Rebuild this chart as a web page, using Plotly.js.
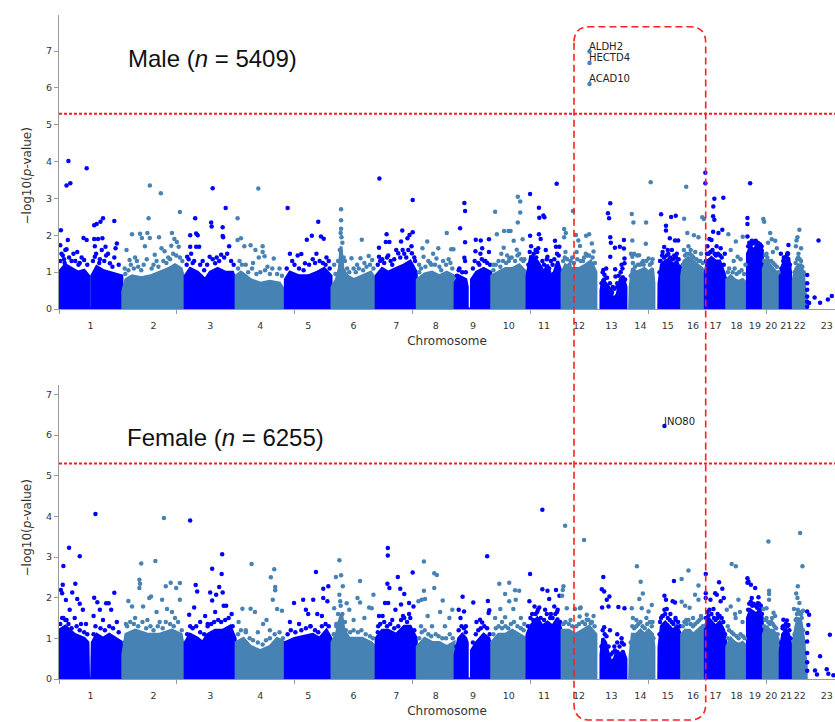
<!DOCTYPE html>
<html>
<head>
<meta charset="utf-8">
<script src="https://cdn.plot.ly/plotly-3.0.1.min.js"></script>
<style>html,body{margin:0;padding:0;background:#fff;}#chart{width:835px;height:722px;}</style>
</head>
<body>
<div id="chart"></div>
<script>
// ---------------- DATA ----------------
const chromosomes = ['1','2','3','4','5','6','7','8','9','10','11','12','13','14','15','16','17','18','19','20','21','22','23'];
const chrLengthMb = [249,243,198,191,181,171,159,146,141,136,135,134,115,107,102,90,81,78,59,63,48,51,155];
const chrGapMb = 3.9;
const threshold = 5.3; // -log10(5e-6)

// Dense lower band of each chromosome: [fraction along chromosome, -log10 p] outline
const maleCore = [
 [[0,1.0],[0.1,1.2],[0.2,1.1],[0.3,1.0],[0.4,1.05],[0.47,0.9],[0.47,0],[0.52,0],[0.52,0.9],[0.6,1.15],[0.7,1.05],[0.8,1.0],[0.9,0.95],[1,0.9]],
 [[0,0.5],[0.05,0.8],[0.15,0.9],[0.3,0.85],[0.45,0.9],[0.6,1.0],[0.75,1.1],[0.85,1.2],[0.95,1.1],[1,0.8]],
 [[0,0.9],[0.1,1.1],[0.25,1.0],[0.4,0.8],[0.5,1.0],[0.65,1.1],[0.8,1.0],[0.95,1.0],[1,0.8]],
 [[0,0.9],[0.1,1.0],[0.3,0.8],[0.5,0.7],[0.7,0.75],[0.9,0.7],[1,0.5]],
 [[0,0.8],[0.1,1.0],[0.3,0.9],[0.5,0.9],[0.7,1.0],[0.85,1.1],[1,0.9]],
 [[0,0.6],[0.1,0.8],[0.17,1.1],[0.21,1.7],[0.25,1.1],[0.35,0.9],[0.5,0.8],[0.7,0.9],[0.9,1.0],[1,0.8]],
 [[0,0.9],[0.15,1.1],[0.3,1.0],[0.5,1.1],[0.7,1.2],[0.85,1.3],[1,1.0]],
 [[0,0.8],[0.2,0.95],[0.4,1.0],[0.6,0.9],[0.8,1.0],[1,0.9]],
 [[0,0.7],[0.1,0.9],[0.3,0.8],[0.34,0.6],[0.34,0],[0.46,0],[0.46,0.8],[0.6,1.0],[0.8,1.1],[1,1.0]],
 [[0,0.9],[0.2,1.0],[0.4,1.1],[0.6,1.1],[0.8,1.2],[1,1.0]],
 [[0,0.9],[0.1,1.4],[0.3,1.3],[0.5,1.0],[0.6,1.2],[0.7,0.9],[0.8,1.0],[0.9,1.3],[1,1.0]],
 [[0,1.0],[0.1,1.2],[0.3,1.1],[0.5,1.1],[0.7,1.2],[0.85,1.3],[1,1.0]],
 [[0.14,0],[0.14,0.5],[0.2,0.8],[0.3,0.7],[0.4,0.6],[0.5,0.5],[0.55,0.2],[0.6,0.3],[0.7,0.4],[0.8,0.8],[0.9,0.9],[1,0.6]],
 [[0.1,0],[0.12,0.6],[0.2,1.1],[0.35,1.0],[0.5,1.05],[0.65,1.1],[0.8,1.0],[0.95,1.1],[1,0.7]],
 [[0.15,0],[0.16,0.7],[0.25,1.2],[0.4,1.3],[0.55,1.35],[0.7,1.2],[0.85,1.3],[1,1.0]],
 [[0,0.9],[0.1,1.3],[0.3,1.4],[0.5,1.3],[0.7,1.2],[0.9,1.1],[1,1.0]],
 [[0,1.0],[0.1,1.3],[0.3,1.4],[0.5,1.3],[0.7,1.3],[0.9,1.0],[1,0.8]],
 [[0,0.8],[0.2,0.9],[0.4,0.8],[0.6,0.75],[0.8,0.8],[1,0.7]],
 [[0,1.5],[0.2,1.7],[0.4,1.6],[0.6,1.7],[0.8,1.7],[1,1.6]],
 [[0,1.1],[0.2,1.3],[0.4,1.2],[0.6,1.1],[0.8,1.0],[1,0.8]],
 [[0,0.9],[0.2,1.2],[0.5,1.3],[0.7,1.4],[0.85,1.0],[0.9,0]],
 [[0,0.8],[0.2,1.1],[0.4,1.2],[0.6,1.2],[0.8,0.9],[0.9,0.5],[1,0.3]],
 []
];
// Scattered SNPs above the band: [fraction along chromosome, -log10 p]
const malePoints = [
 [[0.15,4.02],[0.12,3.35],[0.18,3.41],[0.44,3.82],[0.03,2.14],[0.14,1.87],[0.02,1.73],[0.10,1.6],[0.12,1.62],[0.04,1.5],[0.23,1.5],[0.29,1.55],[0.39,1.93],[0.44,1.87],[0.40,1.33],[0.56,2.27],[0.60,2.31],[0.66,2.37],[0.70,2.46],[0.88,2.39],[0.92,1.78],[0.56,1.9],[0.62,1.9],[0.69,1.92],[0.57,1.7],[0.74,1.69],[0.68,1.6],[0.90,1.65],[0.57,1.42],[0.81,1.24],[0.08,1.35],[0.2,1.3],[0.33,1.25],[0.65,1.35],[0.75,1.45],[0.95,1.2]],
 [[0.44,3.35],[0.62,3.14],[0.93,2.63],[0.42,2.46],[0.15,2.03],[0.28,2.04],[0.40,2.06],[0.31,1.93],[0.44,1.93],[0.59,1.95],[0.80,2.06],[0.84,1.9],[0.88,1.82],[0.36,1.7],[0.52,1.47],[0.63,1.65],[0.68,1.57],[0.79,1.72],[0.91,1.69],[0.06,1.6],[0.11,1.33],[0.03,1.1],[0.2,1.4],[0.74,1.4],[0.25,1.15],[0.5,1.2],[0.97,1.3]],
 [[0.55,3.28],[0.81,2.74],[0.20,2.46],[0.52,2.35],[0.53,2.24],[0.75,2.22],[0.75,1.98],[0.76,1.95],[0.88,1.7],[0.10,2.0],[0.22,2.05],[0.25,2.0],[0.10,1.69],[0.22,1.69],[0.28,1.69],[0.49,1.42],[0.72,1.47],[0.04,1.42],[0.6,1.24],[0.35,1.3],[0.92,1.3],[0.15,1.25]],
 [[0.46,3.27],[0.03,2.46],[0.03,1.87],[0.10,1.92],[0.17,1.7],[0.30,1.73],[0.40,1.6],[0.55,1.7],[0.55,1.55],[0.59,1.43],[0.78,1.37],[0.47,1.4],[0.35,1.25],[0.07,1.3],[0.2,1.2],[0.65,1.15],[0.9,1.1]],
 [[0.05,2.74],[0.10,1.5],[0.27,1.45],[0.47,1.88],[0.58,1.99],[0.72,2.37],[0.78,1.97],[0.84,1.91],[0.35,1.49],[0.43,1.24],[0.15,1.3],[0.6,1.35],[0.9,1.4],[0.68,1.5],[0.95,1.3]],
 [[0.21,2.71],[0.21,2.41],[0.21,2.18],[0.20,2.06],[0.22,1.95],[0.69,1.88],[0.45,1.38],[0.66,1.38],[0.85,1.44],[0.93,1.33],[0.05,1.2],[0.5,1.1],[0.24,1.8],[0.18,1.6],[0.3,1.3],[0.75,1.25],[0.58,1.2]],
 [[0.08,3.54],[0.91,2.96],[0.26,2.03],[0.24,1.82],[0.33,1.82],[0.07,1.66],[0.07,1.42],[0.65,2.13],[0.62,1.83],[0.78,1.92],[0.83,2.01],[0.91,2.08],[0.89,1.51],[0.50,1.6],[0.55,1.51],[0.40,1.2],[0.15,1.35],[0.3,1.45],[0.7,1.5],[0.95,1.4]],
 [[0.80,2.06],[0.27,1.83],[0.57,1.65],[0.14,1.65],[0.43,1.5],[0.52,1.37],[0.92,1.62],[0.98,1.62],[0.17,1.42],[0.7,1.3],[0.35,1.25],[0.05,1.2],[0.85,1.35]],
 [[0.26,2.88],[0.28,2.66],[0.14,2.19],[0.28,1.81],[0.26,1.39],[0.28,1.3],[0.58,1.88],[0.72,1.86],[0.76,1.65],[0.95,1.89],[0.57,1.57],[0.71,1.5],[0.95,1.55],[0.85,1.3],[0.1,1.05],[0.65,1.25]],
 [[0.10,2.64],[0.76,3.05],[0.83,2.92],[0.83,2.62],[0.76,2.35],[0.15,2.03],[0.36,2.12],[0.49,2.12],[0.55,2.12],[0.90,1.89],[0.35,1.66],[0.64,1.85],[0.73,1.61],[0.28,1.5],[0.52,1.38],[0.05,1.2],[0.8,1.5],[0.95,1.35],[0.2,1.3],[0.45,1.45]],
 [[0.09,3.12],[0.35,2.75],[0.36,2.48],[0.48,2.54],[0.51,2.49],[0.87,3.40],[0.09,1.99],[0.35,2.03],[0.40,1.9],[0.82,1.85],[0.85,1.69],[0.95,1.69],[0.15,1.42],[0.55,1.6],[0.6,1.42],[0.25,1.6],[0.7,1.3],[0.3,1.55]],
 [[0.32,2.66],[0.06,2.17],[0.06,1.95],[0.11,2.06],[0.41,2.01],[0.48,1.86],[0.71,1.99],[0.80,2.03],[0.88,1.78],[0.53,1.71],[0.93,1.56],[0.10,1.55],[0.43,1.55],[0.22,1.2],[0.62,1.3],[0.3,1.4],[0.75,1.45]],
 [[0.46,2.87],[0.38,2.6],[0.42,2.46],[0.46,1.95],[0.48,1.8],[0.62,1.66],[0.93,1.87],[0.93,1.64],[0.95,1.37],[0.95,1.24],[0.22,1.06],[0.26,0.93],[0.63,1.08],[0.64,0.88],[0.32,1.1],[0.46,1.42],[0.79,1.69],[0.85,1.2],[0.7,0.7],[0.55,0.6]],
 [[0.88,3.44],[0.18,2.58],[0.24,2.35],[0.71,2.35],[0.20,1.86],[0.70,1.77],[0.15,1.5],[0.20,1.42],[0.45,1.46],[0.80,1.37],[0.27,1.5],[0.38,1.45],[0.6,1.3],[0.95,1.35]],
 [[0.24,2.57],[0.63,2.5],[0.81,2.53],[0.43,2.26],[0.43,2.13],[0.36,1.68],[0.58,1.92],[0.78,1.86],[0.90,1.86],[0.66,1.6],[0.85,1.5],[0.3,1.55],[0.5,1.6],[0.2,1.3]],
 [[0.20,3.32],[0.11,2.45],[0.91,2.49],[0.98,2.44],[0.25,2.06],[0.54,2.0],[0.74,1.95],[0.1,1.6],[0.4,1.6],[0.6,1.55],[0.85,1.5],[0.3,1.7]],
 [[0.0,3.70],[0.0,3.41],[0.44,2.99],[0.88,3.02],[0.39,2.78],[0.38,2.52],[0.44,2.42],[0.83,2.15],[0.64,2.06],[0.20,1.9],[0.30,1.87],[0.38,2.1],[0.1,1.7],[0.55,1.7],[0.75,1.65],[0.95,1.5]],
 [[0.08,2.03],[0.46,1.83],[0.81,1.96],[0.2,1.6],[0.55,1.42],[0.35,1.3],[0.7,1.35],[0.95,1.2]],
 [[0.18,3.41],[0.0,2.31],[0.0,1.97],[0.0,2.47],[0.5,1.78],[0.66,1.74],[0.8,1.76],[0.3,1.85],[0.9,1.7]],
 [[0.0,2.44],[0.05,2.37],[0.43,2.06],[0.53,1.89],[0.30,1.8],[0.75,1.85],[0.85,1.65],[0.6,1.55],[0.2,1.5]],
 [[0.68,1.74],[0.6,1.51],[0.05,1.5],[0.3,1.4]],
 [[0.47,2.15],[0.32,1.95],[0.2,1.7],[0.6,1.65],[0.25,1.86],[0.4,1.5]],
 [[0,0.92],[0,0.7],[0,0.52],[0,0.34],[0,0.2],[0,0.06],[0.05,0.16],[0.19,0.31],[0.29,1.86],[0.33,0.17],[0.53,0.26],[0.63,0.35],[0.72,0.38]]
];
// SNPs along the ragged top edge of the dense band
const maleEdge = [
 [[0.02,1.3],[0.06,1.45],[0.09,1.25],[0.16,1.4],[0.26,1.3],[0.31,1.2],[0.36,1.4],[0.45,1.2],[0.54,1.3],[0.59,1.5],[0.64,1.25],[0.72,1.3],[0.78,1.5],[0.85,1.15],[0.88,1.4]],
 [[0.04,0.95],[0.09,1.05],[0.13,1.2],[0.18,1.1],[0.23,1.3],[0.3,1.05],[0.34,1.2],[0.39,1.35],[0.47,1.1],[0.55,1.3],[0.58,1.15],[0.66,1.3],[0.71,1.25],[0.77,1.35],[0.82,1.5],[0.87,1.45],[0.93,1.4]],
 [[0.03,1.2],[0.07,1.35],[0.12,1.5],[0.18,1.3],[0.3,1.2],[0.38,1.05],[0.44,1.2],[0.55,1.35],[0.63,1.4],[0.68,1.3],[0.78,1.4],[0.84,1.5],[0.97,1.2]],
 [[0.04,1.1],[0.12,1.2],[0.25,1.0],[0.33,1.1],[0.42,0.95],[0.5,1.0],[0.6,1.05],[0.7,0.95],[0.75,1.1],[0.85,0.95],[0.95,0.9]],
 [[0.03,1.1],[0.2,1.2],[0.3,1.1],[0.4,1.05],[0.52,1.2],[0.65,1.25],[0.75,1.3],[0.82,1.25],[0.88,1.2],[0.97,1.1]],
 [[0.08,0.95],[0.14,1.3],[0.27,1.4],[0.35,1.1],[0.4,1.0],[0.55,1.0],[0.62,1.1],[0.72,1.05],[0.8,1.15],[0.88,1.2],[0.96,1.1]],
 [[0.04,1.2],[0.1,1.3],[0.2,1.25],[0.27,1.4],[0.36,1.3],[0.45,1.35],[0.6,1.4],[0.66,1.6],[0.75,1.4],[0.8,1.6],[0.88,1.7],[0.97,1.3]],
 [[0.05,1.0],[0.1,1.1],[0.22,1.15],[0.3,1.3],[0.38,1.2],[0.48,1.2],[0.6,1.15],[0.65,1.05],[0.78,1.2],[0.9,1.25],[0.95,1.1]],
 [[0.05,0.9],[0.12,1.1],[0.2,1.0],[0.3,1.0],[0.5,1.1],[0.55,1.3],[0.68,1.2],[0.75,1.35],[0.82,1.3],[0.9,1.25],[0.98,1.2]],
 [[0.05,1.05],[0.12,1.2],[0.25,1.15],[0.33,1.3],[0.42,1.25],[0.5,1.3],[0.58,1.4],[0.68,1.3],[0.75,1.45],[0.86,1.35],[0.92,1.3]],
 [[0.04,1.2],[0.08,1.55],[0.12,1.7],[0.2,1.5],[0.27,1.4],[0.33,1.65],[0.45,1.3],[0.5,1.2],[0.58,1.35],[0.65,1.1],[0.75,1.2],[0.8,1.35],[0.88,1.5],[0.93,1.45]],
 [[0.03,1.3],[0.08,1.4],[0.15,1.35],[0.25,1.3],[0.35,1.25],[0.45,1.35],[0.55,1.3],[0.65,1.4],[0.7,1.5],[0.8,1.45],[0.9,1.4],[0.97,1.25]],
 [[0.16,0.7],[0.2,1.0],[0.25,0.8],[0.35,0.85],[0.45,0.7],[0.52,0.45],[0.6,0.55],[0.7,0.6],[0.75,0.9],[0.82,1.0],[0.88,1.1],[0.97,0.8]],
 [[0.14,0.9],[0.22,1.25],[0.3,1.15],[0.4,1.2],[0.48,1.2],[0.55,1.25],[0.62,1.2],[0.72,1.3],[0.85,1.2],[0.92,1.25]],
 [[0.18,1.0],[0.22,1.3],[0.28,1.45],[0.35,1.4],[0.45,1.45],[0.52,1.5],[0.6,1.4],[0.7,1.35],[0.75,1.45],[0.82,1.4],[0.92,1.35],[0.97,1.15]],
 [[0.05,1.2],[0.15,1.45],[0.22,1.5],[0.35,1.5],[0.45,1.45],[0.52,1.4],[0.65,1.35],[0.75,1.3],[0.82,1.3],[0.93,1.25]],
 [[0.03,1.3],[0.08,1.5],[0.16,1.5],[0.25,1.55],[0.35,1.6],[0.45,1.5],[0.52,1.45],[0.62,1.5],[0.72,1.45],[0.8,1.4],[0.9,1.2]],
 [[0.05,1.0],[0.12,1.1],[0.3,1.0],[0.4,1.1],[0.5,0.95],[0.62,1.0],[0.75,1.05],[0.88,0.95]],
 [[0.05,1.7],[0.12,1.8],[0.25,1.75],[0.4,1.8],[0.55,1.85],[0.7,1.8],[0.85,1.75],[0.95,1.7]],
 [[0.05,1.3],[0.15,1.45],[0.25,1.4],[0.35,1.3],[0.5,1.3],[0.62,1.25],[0.72,1.2],[0.85,1.15],[0.95,1.0]],
 [[0.1,1.1],[0.25,1.3],[0.4,1.4],[0.55,1.45],[0.65,1.5],[0.8,1.2]],
 [[0.1,1.0],[0.18,1.25],[0.3,1.35],[0.38,1.4],[0.5,1.35],[0.6,1.3],[0.7,1.15],[0.8,1.0]],
 []
];
const maleHitGenes = ['ALDH2','HECTD4','ACAD10'];
const maleHitChr = [12,12,12];
const maleHitFrac = [0.81,0.81,0.81];
const maleHitP = [6.99,6.68,6.11];

const femaleCore = [
 [[0,1.2],[0.1,1.3],[0.25,1.1],[0.4,1.0],[0.46,0.9],[0.47,0],[0.52,0],[0.53,0.9],[0.6,1.1],[0.7,1.0],[0.8,1.1],[0.9,1.0],[1,0.9]],
 [[0,0.6],[0.05,1.1],[0.2,1.2],[0.4,1.1],[0.6,1.1],[0.8,1.2],[0.95,1.1],[1,0.7]],
 [[0,0.9],[0.1,1.1],[0.25,1.0],[0.35,0.9],[0.45,1.1],[0.6,1.2],[0.75,1.2],[0.9,1.3],[1,1.0]],
 [[0,0.9],[0.15,1.0],[0.3,0.8],[0.5,0.7],[0.7,0.8],[0.85,1.0],[1,0.9]],
 [[0,0.9],[0.2,1.0],[0.4,1.05],[0.6,1.1],[0.75,1.0],[0.9,1.2],[1,1.0]],
 [[0,0.9],[0.1,1.1],[0.16,1.4],[0.22,1.6],[0.28,1.2],[0.4,1.0],[0.55,1.0],[0.7,1.0],[0.9,0.9],[1,0.8]],
 [[0,1.0],[0.15,1.2],[0.3,1.2],[0.5,1.1],[0.7,1.3],[0.85,1.3],[1,1.0]],
 [[0,0.8],[0.2,1.0],[0.4,0.9],[0.6,0.9],[0.8,0.8],[1,0.9]],
 [[0,0.6],[0.1,1.0],[0.2,1.1],[0.3,1.0],[0.34,0.9],[0.34,0],[0.46,0],[0.46,0.7],[0.6,0.9],[0.8,1.1],[0.95,1.0],[1,0.8]],
 [[0,0.9],[0.2,1.1],[0.4,1.1],[0.6,1.2],[0.8,1.1],[1,1.0]],
 [[0,1.1],[0.1,1.3],[0.3,1.5],[0.45,1.3],[0.6,1.4],[0.75,1.3],[0.9,1.5],[1,1.2]],
 [[0,1.2],[0.2,1.2],[0.4,1.1],[0.6,1.2],[0.8,1.3],[1,1.1]],
 [[0.14,0],[0.14,0.6],[0.2,1.0],[0.3,0.9],[0.4,0.6],[0.5,0.4],[0.6,0.5],[0.7,0.7],[0.8,0.6],[0.9,0.7],[1,0.5]],
 [[0.1,0],[0.12,0.6],[0.2,1.1],[0.35,1.1],[0.5,1.2],[0.65,1.1],[0.8,1.2],[0.95,1.1],[1,0.8]],
 [[0.15,0],[0.16,0.8],[0.25,1.3],[0.4,1.4],[0.55,1.3],[0.7,1.2],[0.85,1.3],[1,1.1]],
 [[0,1.1],[0.15,1.2],[0.35,1.2],[0.5,1.1],[0.7,1.2],[0.9,1.3],[1,1.1]],
 [[0,1.3],[0.15,1.5],[0.35,1.4],[0.5,1.3],[0.7,1.4],[0.9,1.2],[1,0.9]],
 [[0,0.8],[0.2,1.0],[0.4,0.9],[0.6,0.85],[0.8,0.9],[1,0.8]],
 [[0,1.5],[0.2,1.7],[0.4,1.65],[0.6,1.6],[0.8,1.7],[1,1.5]],
 [[0,1.1],[0.2,1.3],[0.4,1.2],[0.6,1.2],[0.8,1.1],[1,0.9]],
 [[0,0.7],[0.2,1.1],[0.5,1.2],[0.7,1.1],[0.9,0.8],[0.92,0]],
 [[0,0.9],[0.2,1.3],[0.4,1.5],[0.6,1.4],[0.8,1.0],[0.9,0.6],[1,0.4]],
 []
];
const femalePoints = [
 [[0.58,4.06],[0.16,3.23],[0.33,3.02],[0.07,2.78],[0.06,2.32],[0.03,2.19],[0.05,2.11],[0.26,2.34],[0.21,2.13],[0.29,1.97],[0.33,1.85],[0.11,1.94],[0.17,1.7],[0.38,1.7],[0.56,2.0],[0.61,1.89],[0.65,1.7],[0.88,2.12],[0.75,1.86],[0.79,1.86],[0.83,1.7],[0.35,1.35],[0.43,1.35],[0.07,1.5],[0.12,1.45],[0.25,1.5],[0.7,1.45],[0.92,1.4],[0.55,1.55]],
 [[0.30,2.84],[0.53,2.9],[0.67,3.96],[0.27,2.44],[0.28,2.34],[0.27,2.24],[0.70,2.28],[0.78,2.37],[0.87,2.24],[0.93,2.36],[0.64,1.95],[0.93,1.95],[0.09,1.92],[0.15,1.78],[0.33,1.78],[0.43,1.99],[0.46,2.03],[0.55,1.65],[0.72,1.72],[0.80,1.65],[0.2,1.5],[0.4,1.45],[0.6,1.4],[0.05,1.35],[0.85,1.5]],
 [[0.10,3.90],[0.74,3.07],[0.54,2.71],[0.73,2.58],[0.68,2.26],[0.75,2.13],[0.21,2.31],[0.24,2.15],[0.50,2.13],[0.54,1.93],[0.62,2.07],[0.18,1.76],[0.08,1.58],[0.77,1.8],[0.82,1.8],[0.93,1.6],[0.4,1.55],[0.6,1.65],[0.45,1.35],[0.3,1.4]],
 [[0.32,2.83],[0.79,2.70],[0.72,2.5],[0.81,2.26],[0.81,2.18],[0.76,1.95],[0.13,1.73],[0.30,1.73],[0.39,1.65],[0.56,1.35],[0.63,1.45],[0.85,1.72],[0.95,1.68],[0.05,1.4],[0.2,1.2],[0.45,1.15],[0.7,1.2]],
 [[0.19,1.87],[0.39,1.95],[0.61,1.95],[0.67,2.63],[0.83,2.22],[0.94,2.28],[0.83,1.99],[0.92,1.91],[0.45,1.7],[0.5,1.6],[0.7,1.6],[0.8,1.55],[0.1,1.4],[0.3,1.35],[0.55,1.3]],
 [[0.17,2.92],[0.09,2.51],[0.21,2.55],[0.65,2.41],[0.25,2.28],[0.17,2.07],[0.19,1.91],[0.59,1.99],[0.65,1.88],[0.86,1.76],[0.92,1.74],[0.96,2.07],[0.05,1.74],[0.34,1.86],[0.40,1.7],[0.5,1.45],[0.75,1.5],[0.3,1.4],[0.1,1.35]],
 [[0.29,3.22],[0.29,3.04],[0.54,2.51],[0.91,2.62],[0.28,2.34],[0.33,2.24],[0.60,2.22],[0.70,2.09],[0.22,1.87],[0.30,1.87],[0.07,1.55],[0.16,1.55],[0.48,1.7],[0.62,1.83],[0.82,1.87],[0.93,1.78],[0.67,1.55],[0.82,1.6],[0.4,1.45],[0.05,1.3]],
 [[0.18,2.89],[0.46,2.60],[0.53,2.56],[0.46,2.24],[0.18,2.17],[0.03,1.91],[0.12,1.95],[0.21,1.97],[0.69,1.93],[0.62,1.65],[0.95,1.7],[0.87,1.5],[0.28,1.55],[0.4,1.3],[0.75,1.3],[0.1,1.3]],
 [[0.21,2.02],[0.25,1.66],[0.90,3.02],[0.51,1.88],[0.92,1.92],[0.70,1.46],[0.76,1.39],[0.94,1.62],[0.96,1.69],[0.15,1.5],[0.10,1.7],[0.6,1.4],[0.3,1.3]],
 [[0.22,2.34],[0.51,2.37],[0.39,2.09],[0.68,2.18],[0.80,2.17],[0.51,1.91],[0.70,1.95],[0.25,1.72],[0.39,1.52],[0.63,1.72],[0.10,1.5],[0.85,1.5],[0.3,1.4],[0.95,1.35]],
 [[0.45,4.16],[0.09,2.58],[0.45,2.21],[0.60,2.17],[0.85,2.19],[0.95,2.05],[0.07,1.91],[0.22,1.78],[0.36,1.76],[0.53,1.70],[0.65,1.97],[0.80,1.78],[0.88,1.65],[0.15,1.6],[0.3,1.65],[0.7,1.6]],
 [[0.09,3.77],[0.65,3.42],[0.04,2.28],[0.02,2.19],[0.0,2.05],[0.14,1.74],[0.53,1.74],[0.52,1.54],[0.73,1.46],[0.38,1.72],[0.55,1.76],[0.73,1.58],[0.93,1.55],[0.85,1.37],[0.25,1.45]],
 [[0.22,2.51],[0.17,2.21],[0.25,2.15],[0.43,2.03],[0.34,1.95],[0.40,1.78],[0.74,1.77],[0.95,1.74],[0.18,1.76],[0.25,1.27],[0.45,1.2],[0.7,1.1],[0.85,1.0],[0.6,0.8]],
 [[0.37,2.77],[0.51,2.39],[0.59,2.10],[0.46,1.97],[0.18,1.74],[0.55,1.74],[0.80,1.66],[0.92,1.82],[0.22,1.5],[0.72,1.5],[0.35,1.45],[0.95,1.4]],
 [[0.74,2.41],[0.37,2.05],[0.43,1.95],[0.37,1.7],[0.46,1.72],[0.78,1.88],[0.69,1.91],[0.30,1.55],[0.80,1.5],[0.6,1.6],[0.2,1.4]],
 [[0.0,2.46],[0.30,2.67],[0.74,2.30],[0.59,2.07],[0.74,1.95],[0.0,1.9],[0.15,1.8],[0.35,1.75],[0.5,1.5],[0.85,1.55],[0.2,1.45]],
 [[0.02,2.58],[0.02,2.11],[0.02,1.99],[0.67,2.38],[0.48,2.11],[0.56,2.07],[0.83,2.22],[0.9,1.99],[0.75,1.91],[0.4,1.72],[0.25,1.95],[0.15,1.55],[0.6,1.5]],
 [[0.25,2.83],[0.46,2.77],[0.59,1.95],[0.05,1.3],[0.42,1.6],[0.45,1.5],[0.0,1.7],[0.67,1.65],[0.2,1.78],[0.8,1.4]],
 [[0.0,2.48],[0.0,2.37],[0.07,2.40],[0.23,2.32],[0.52,2.24],[0.74,2.01],[0.29,1.99],[0.85,1.7],[0.7,1.86]],
 [[0.32,3.38],[0.36,2.17],[0.36,2.09],[0.36,1.95],[0.0,1.72],[0.64,1.63],[0.74,1.55],[0.55,1.5],[0.2,1.74]],
 [[0.55,1.44],[0.68,1.33],[0.26,1.46],[0.21,1.29],[0.4,1.2]],
 [[0.53,3.59],[0.71,2.77],[0.35,2.28],[0.22,2.10],[0.32,1.99],[0.47,1.87],[0.05,1.72],[0.75,1.68],[0.25,1.48],[0.6,1.6]],
 [[0,1.66],[0,1.13],[0,0.92],[0,0.64],[0,0.41],[0,0.2],[0.03,1.33],[0.05,1.58],[0.58,1.09],[0.33,0.56],[0.2,0.21],[0.25,0.11],[0.5,0.24],[0.54,0.13],[0.67,0.09]]
];
const femaleEdge = [
 [[0.02,1.35],[0.05,1.5],[0.1,1.45],[0.15,1.35],[0.2,1.25],[0.28,1.3],[0.33,1.2],[0.4,1.15],[0.45,1.1],[0.55,1.1],[0.58,1.3],[0.66,1.25],[0.73,1.2],[0.8,1.3],[0.86,1.25],[0.95,1.15]],
 [[0.03,0.9],[0.07,1.3],[0.12,1.4],[0.18,1.35],[0.25,1.3],[0.32,1.4],[0.38,1.25],[0.45,1.3],[0.5,1.2],[0.57,1.3],[0.65,1.25],[0.7,1.4],[0.77,1.35],[0.83,1.3],[0.9,1.4],[0.96,1.2]],
 [[0.04,1.1],[0.1,1.3],[0.15,1.25],[0.22,1.3],[0.3,1.15],[0.38,1.1],[0.45,1.3],[0.52,1.35],[0.58,1.4],[0.66,1.45],[0.72,1.4],[0.8,1.45],[0.87,1.5],[0.95,1.3]],
 [[0.04,1.1],[0.1,1.2],[0.2,1.15],[0.28,1.0],[0.35,0.95],[0.45,0.9],[0.55,0.85],[0.62,0.95],[0.7,1.0],[0.8,1.1],[0.9,1.15],[0.97,1.0]],
 [[0.05,1.1],[0.12,1.2],[0.22,1.15],[0.35,1.2],[0.45,1.25],[0.55,1.3],[0.65,1.2],[0.72,1.15],[0.8,1.3],[0.88,1.35],[0.95,1.3]],
 [[0.04,1.1],[0.1,1.3],[0.14,1.6],[0.2,1.8],[0.24,1.6],[0.32,1.2],[0.42,1.15],[0.5,1.2],[0.6,1.15],[0.68,1.2],[0.78,1.1],[0.88,1.05],[0.95,1.0]],
 [[0.04,1.15],[0.1,1.35],[0.2,1.4],[0.27,1.3],[0.35,1.35],[0.45,1.25],[0.55,1.3],[0.62,1.45],[0.7,1.5],[0.77,1.4],[0.85,1.5],[0.95,1.2]],
 [[0.05,1.0],[0.12,1.15],[0.2,1.2],[0.3,1.1],[0.38,1.05],[0.5,1.1],[0.58,1.05],[0.68,1.0],[0.78,1.0],[0.88,1.1],[0.96,1.0]],
 [[0.04,0.8],[0.1,1.2],[0.18,1.3],[0.25,1.25],[0.3,1.15],[0.5,0.9],[0.58,1.1],[0.65,1.2],[0.72,1.25],[0.82,1.3],[0.9,1.25],[0.97,1.1]],
 [[0.05,1.1],[0.12,1.25],[0.2,1.3],[0.3,1.25],[0.4,1.3],[0.48,1.25],[0.56,1.35],[0.65,1.4],[0.75,1.3],[0.85,1.25],[0.93,1.2]],
 [[0.03,1.3],[0.1,1.5],[0.18,1.45],[0.25,1.6],[0.32,1.7],[0.4,1.5],[0.5,1.45],[0.58,1.6],[0.68,1.5],[0.75,1.5],[0.83,1.6],[0.9,1.7],[0.97,1.4]],
 [[0.04,1.35],[0.1,1.4],[0.2,1.35],[0.3,1.3],[0.42,1.3],[0.5,1.35],[0.6,1.4],[0.68,1.35],[0.78,1.45],[0.88,1.4],[0.96,1.3]],
 [[0.16,0.8],[0.2,1.2],[0.27,1.1],[0.33,1.05],[0.4,0.8],[0.48,0.6],[0.55,0.65],[0.62,0.7],[0.7,0.9],[0.78,0.8],[0.86,0.9],[0.93,0.85]],
 [[0.14,0.9],[0.2,1.3],[0.27,1.25],[0.35,1.3],[0.42,1.35],[0.5,1.4],[0.58,1.3],[0.66,1.25],[0.75,1.35],[0.85,1.4],[0.92,1.3],[0.98,1.0]],
 [[0.18,1.1],[0.24,1.5],[0.3,1.55],[0.4,1.6],[0.5,1.5],[0.58,1.45],[0.65,1.4],[0.72,1.35],[0.8,1.45],[0.9,1.4],[0.97,1.3]],
 [[0.05,1.3],[0.12,1.4],[0.22,1.35],[0.3,1.45],[0.4,1.35],[0.5,1.3],[0.6,1.35],[0.7,1.4],[0.78,1.45],[0.88,1.5],[0.95,1.3]],
 [[0.03,1.5],[0.1,1.65],[0.2,1.7],[0.3,1.6],[0.42,1.5],[0.5,1.45],[0.6,1.6],[0.7,1.55],[0.8,1.5],[0.88,1.4],[0.96,1.1]],
 [[0.05,1.0],[0.12,1.2],[0.25,1.15],[0.35,1.1],[0.5,1.05],[0.6,1.0],[0.7,1.1],[0.82,1.05],[0.92,1.0]],
 [[0.05,1.7],[0.12,1.85],[0.22,1.9],[0.32,1.8],[0.42,1.85],[0.55,1.8],[0.65,1.75],[0.78,1.85],[0.9,1.8],[0.97,1.6]],
 [[0.05,1.3],[0.12,1.45],[0.2,1.5],[0.3,1.4],[0.4,1.35],[0.5,1.4],[0.6,1.35],[0.7,1.3],[0.8,1.25],[0.9,1.1]],
 [[0.1,0.9],[0.2,1.25],[0.3,1.3],[0.45,1.35],[0.6,1.3],[0.75,1.2],[0.85,1.0]],
 [[0.1,1.1],[0.18,1.45],[0.28,1.6],[0.35,1.7],[0.45,1.65],[0.55,1.6],[0.65,1.5],[0.75,1.2],[0.85,0.9]],
 []
];
const femaleHitGenes = ['INO80'];
const femaleHitChr = [15];
const femaleHitFrac = [0.37];
const femaleHitP = [6.22];

// ---------------- BUILD ----------------
const oddColor = '#0000FF', evenColor = '#4682B4';
const chrStart = [];
let acc = 0;
chrLengthMb.forEach((L, i) => { chrStart.push(acc); acc += L + chrGapMb; });
const xOf = (ci, f) => chrStart[ci] + f * chrLengthMb[ci];
const chrCenters = chrLengthMb.map((L, i) => chrStart[i] + L / 2);
const colorOf = ci => (ci % 2 === 0 ? oddColor : evenColor);

const xMax = 3074;
const tickStepMb = 467;
const minorTicks = [];
for (let v = 0; v <= xMax; v += tickStepMb) minorTicks.push(v);

const traces = [];
function addPanel(core, points, edge, hitGenes, hitChr, hitFrac, hitP, xa, ya) {
  core.forEach((pts, ci) => {
    if (!pts.length) return;
    const xs = [xOf(ci, pts[0][0])], ys = [0];
    pts.forEach(p => { xs.push(xOf(ci, p[0])); ys.push(p[1]); });
    xs.push(xOf(ci, pts[pts.length - 1][0])); ys.push(0);
    traces.push({x: xs, y: ys, xaxis: xa, yaxis: ya, mode: 'lines', fill: 'toself',
      fillcolor: colorOf(ci), line: {color: colorOf(ci), width: 3}, hoverinfo: 'skip', showlegend: false});
  });
  points.forEach((pts, ci) => {
    const all = pts.concat(edge[ci]);
    traces.push({x: all.map(p => xOf(ci, p[0])), y: all.map(p => p[1]), xaxis: xa, yaxis: ya,
      mode: 'markers', marker: {color: colorOf(ci), size: 4.5}, cliponaxis: false,
      name: 'chr' + chromosomes[ci], showlegend: false});
  });
  traces.push({x: hitChr.map((c, i) => xOf(c - 1, hitFrac[i])), y: hitP, xaxis: xa, yaxis: ya,
    mode: 'markers', marker: {color: hitChr.map(c => colorOf(c - 1)), size: 4.5}, text: hitGenes,
    cliponaxis: false, showlegend: false});
}
addPanel(maleCore, malePoints, maleEdge, maleHitGenes, maleHitChr, maleHitFrac, maleHitP, 'x', 'y');
addPanel(femaleCore, femalePoints, femaleEdge, femaleHitGenes, femaleHitChr, femaleHitFrac, femaleHitP, 'x2', 'y2');

const axisGrey = '#9a9a9a';
function xAxisDef(anchor) {
  return {domain: [0, 1], anchor: anchor, range: [0, xMax], tickmode: 'array', tickvals: chrCenters,
    ticktext: chromosomes, tickangle: 0, ticks: '', ticklabelstandoff: 8, showline: true, linecolor: axisGrey, linewidth: 1,
    showgrid: false, zeroline: false, tickfont: {size: 9.5, color: '#333'},
    title: {text: 'Chromosome', font: {size: 12, color: '#333'}, standoff: 6},
    minor: {tickmode: 'array', tickvals: minorTicks, ticks: 'outside', ticklen: 4, tickcolor: axisGrey, showgrid: false}};
}
function yAxisDef(anchor, domain, top) {
  return {domain: domain, anchor: anchor, range: [0, top], tickmode: 'array', tickvals: [0,1,2,3,4,5,6,7],
    ticks: 'outside', ticklen: 4, tickcolor: axisGrey, showline: true, linecolor: axisGrey, linewidth: 1,
    showgrid: false, zeroline: false, tickfont: {size: 9.5, color: '#333'}};
}

// pixel helpers for paper coordinates
const L = 59, W = 776, T = 15, H = 664;
const px = x => (x - L) / W;
const py = y => (T + H - y) / H;

const annotations = [
  {xref: 'paper', yref: 'paper', x: px(126), y: py(58), xanchor: 'left', yanchor: 'middle', showarrow: false,
   text: 'Male (<i>n</i> = 5409)', font: {family: 'Liberation Sans, Arial, sans-serif', size: 24, color: '#111'}},
  {xref: 'paper', yref: 'paper', x: px(125), y: py(437), xanchor: 'left', yanchor: 'middle', showarrow: false,
   text: 'Female (<i>n</i> = 6255)', font: {family: 'Liberation Sans, Arial, sans-serif', size: 24, color: '#111'}},
  {xref: 'paper', yref: 'paper', x: px(26.5), y: py(176), xanchor: 'center', yanchor: 'middle', textangle: -90, showarrow: false,
   text: '\u2212log10(<i>p</i>-value)', font: {size: 12, color: '#333'}},
  {xref: 'paper', yref: 'paper', x: px(26.5), y: py(528), xanchor: 'center', yanchor: 'middle', textangle: -90, showarrow: false,
   text: '\u2212log10(<i>p</i>-value)', font: {size: 12, color: '#333'}}
];
maleHitGenes.forEach((g, i) => annotations.push({xref: 'x', yref: 'y', x: xOf(maleHitChr[i] - 1, maleHitFrac[i]),
  y: maleHitP[i], text: g, xanchor: 'left', yanchor: 'middle', xshift: -2, yshift: 5, showarrow: false,
  font: {size: 10, color: '#222'}}));
femaleHitGenes.forEach((g, i) => annotations.push({xref: 'x2', yref: 'y2', x: xOf(femaleHitChr[i] - 1, femaleHitFrac[i]),
  y: femaleHitP[i], text: g, xanchor: 'left', yanchor: 'middle', xshift: -2, yshift: 5, showarrow: false,
  font: {size: 10, color: '#222'}}));

// rounded dashed box (chr12-16 region)
const bx0 = px(574), bx1 = px(705.7), by1 = py(26.7), by0 = py(720);
const rx = 16 / W, ry = 16 / H;
const boxPath = `M ${bx0},${by1 - ry} L ${bx0},${by0 + ry} Q ${bx0},${by0} ${bx0 + rx},${by0} L ${bx1 - rx},${by0} ` +
  `Q ${bx1},${by0} ${bx1},${by0 + ry} L ${bx1},${by1 - ry} Q ${bx1},${by1} ${bx1 - rx},${by1} L ${bx0 + rx},${by1} ` +
  `Q ${bx0},${by1} ${bx0},${by1 - ry} Z`;

const shapes = [
  {type: 'line', xref: 'paper', yref: 'y', x0: 0, x1: 1, y0: threshold, y1: threshold, line: {color: '#ff1a1a', width: 2, dash: '3px,2px'}},
  {type: 'line', xref: 'paper', yref: 'y2', x0: 0, x1: 1, y0: threshold, y1: threshold, line: {color: '#ff1a1a', width: 2, dash: '3px,2px'}},
  {type: 'path', xref: 'paper', yref: 'paper', path: boxPath, line: {color: '#ff2020', width: 1.6, dash: '7px,4px'}}
];

const layout = {
  width: 835, height: 722, margin: {l: L, r: 0, t: T, b: 722 - T - H},
  paper_bgcolor: '#fff', plot_bgcolor: '#fff', showlegend: false,
  font: {family: 'DejaVu Sans, sans-serif', color: '#333'},
  xaxis: xAxisDef('y'), yaxis: yAxisDef('x', [py(309), 1], 7.98),
  xaxis2: xAxisDef('y2'), yaxis2: yAxisDef('x2', [0, py(385)], 7.23),
  annotations: annotations, shapes: shapes
};
Plotly.newPlot('chart', traces, layout, {staticPlot: true, displayModeBar: false});
</script>
</body>
</html>
